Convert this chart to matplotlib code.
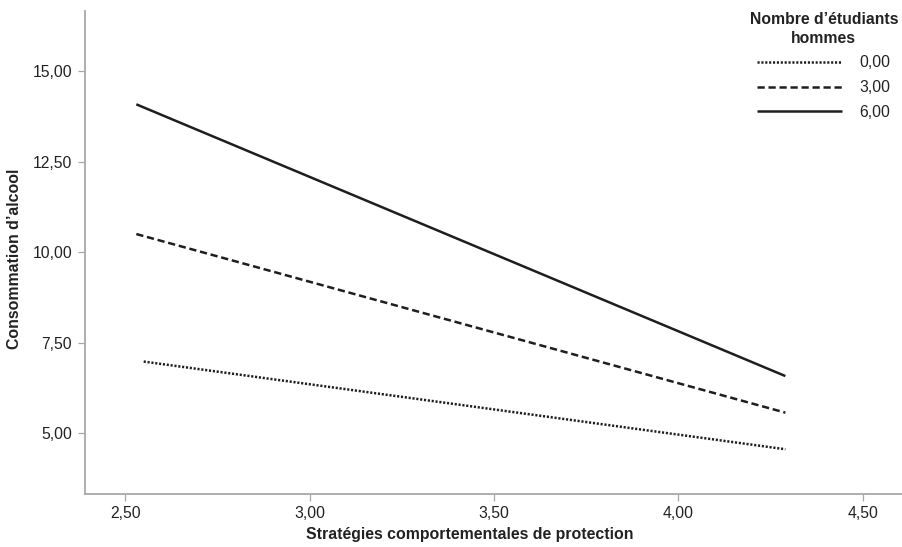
import matplotlib
matplotlib.use("Agg")
import matplotlib.pyplot as plt
from matplotlib.ticker import FixedLocator, FuncFormatter

plt.rcParams['font.family'] = ['Liberation Sans', 'DejaVu Sans']

# Data
group_labels = ["0,00", "3,00", "6,00"]
x_start = [2.55, 2.53, 2.53]
x_end = [4.29, 4.29, 4.29]
y_start = [6.98, 10.50, 14.08]
y_end = [4.56, 5.57, 6.58]
x_ticks = [2.5, 3.0, 3.5, 4.0, 4.5]
y_ticks = [5.0, 7.5, 10.0, 12.5, 15.0]

styles = [(0, (0.85, 0.7)), (0, (2.9, 1.5)), '-']
FS = 11.3

fig = plt.figure(figsize=(9.03, 5.47), dpi=100)
ax = fig.add_axes([84.7/903, 1-493.7/547, 1-84.7/903, (493.7-11)/547])

for i in range(3):
    ax.plot([x_start[i], x_end[i]], [y_start[i], y_end[i]], color='#1e1e1e',
            lw=1.8, linestyle=styles[i], label=group_labels[i],
            solid_capstyle='butt', dash_capstyle='butt')

ax.set_xlim(2.390, 4.609)
ax.set_ylim(3.333, 16.656)
ax.xaxis.set_major_locator(FixedLocator(x_ticks))
ax.yaxis.set_major_locator(FixedLocator(y_ticks))
fmt = FuncFormatter(lambda v, p: f"{v:.2f}".replace('.', ','))
ax.xaxis.set_major_formatter(fmt)
ax.yaxis.set_major_formatter(fmt)

for s in ['top', 'right']:
    ax.spines[s].set_visible(False)
for s in ['left', 'bottom']:
    ax.spines[s].set_color('#a8a8a8')
    ax.spines[s].set_linewidth(1.3)
ax.tick_params(axis='both', direction='out', length=5, width=0.9, color='#a8a8a8',
               labelsize=FS, labelcolor='#222222', pad=4)

ax.set_xlabel("Stratégies comportementales de protection", fontsize=11.4,
              fontweight='bold', color='#222222')
ax.xaxis.set_label_coords((470-84.7)/(903-84.7), -(535-493.7)/(493.7-11))
ax.xaxis.label.set_va('center')
ax.set_ylabel("Consommation d’alcool", fontsize=11.4, fontweight='bold', color='#222222')
ax.yaxis.set_label_coords(-(84.7-15)/(903-84.7), (493.7-259)/(493.7-11))
ax.yaxis.label.set_va('center')

leg = ax.legend(title="Nombre d’étudiants\nhommes", loc='upper right',
                bbox_to_anchor=((898-84.7)/(903-84.7), 1.0 - 1/(493.7-11)),
                frameon=False, fontsize=FS, handlelength=5.4, handletextpad=1.08,
                labelspacing=0.62, borderpad=0.0, borderaxespad=0.0,
                alignment='center',
                title_fontproperties={'weight': 'bold', 'size': FS})
for t in leg.get_texts():
    t.set_color('#222222')
leg.get_title().set_color('#222222')
leg.get_title().set_multialignment('center')
leg.get_title().set_linespacing(1.3)

fig.savefig("out.png", dpi=100)
